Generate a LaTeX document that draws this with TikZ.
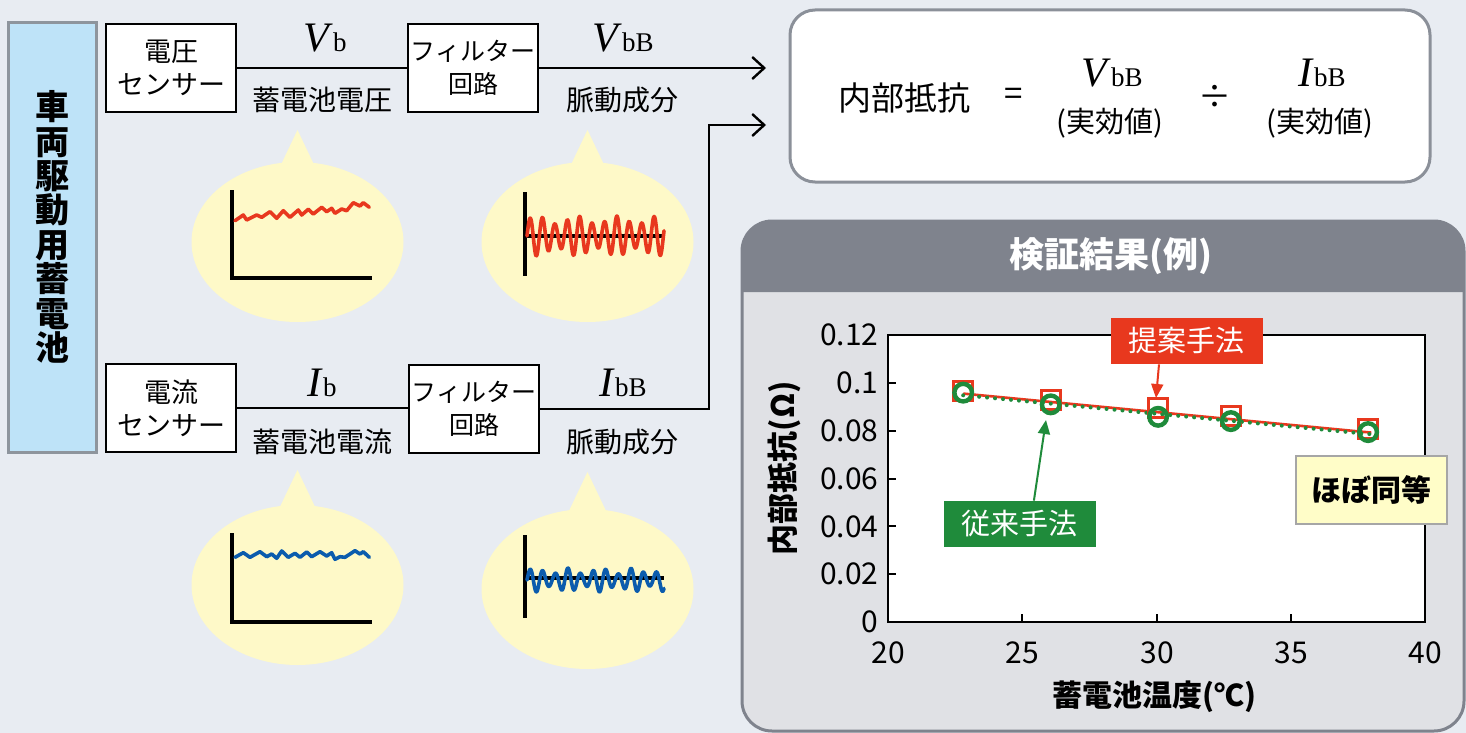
\documentclass[tikz,border=0pt]{standalone}
\usepackage{fontspec}
\setmainfont{Noto Sans CJK JP}
\newfontfamily\tms{Liberation Serif}
\usetikzlibrary{arrows.meta}
\definecolor{bgc}{HTML}{E8ECF2}
\definecolor{leftfill}{HTML}{BEE3F8}
\definecolor{leftdraw}{HTML}{8E959D}
\definecolor{bub}{HTML}{FEF9C8}
\definecolor{cred}{HTML}{E8381E}
\definecolor{cblue}{HTML}{0B5CAD}
\definecolor{cgreen}{HTML}{1F8B3B}
\definecolor{hdr}{HTML}{7F838D}
\definecolor{body}{HTML}{E0E1E5}
\definecolor{fgrey}{HTML}{8B9099}
\definecolor{yel}{HTML}{FFFDC8}
\newcommand{\jfs}[1]{\fontsize{#1}{#1}\selectfont}
\newcommand{\sig}[2]{{\tms\jfs{21}\textit{#1}\jfs{13.5}#2}}
\begin{document}
\begin{tikzpicture}[x=0.5pt,y=-0.5pt,
  blk/.style={draw=black, line width=1pt, fill=white, minimum width=65pt, minimum height=44pt, inner sep=0pt, align=center, font=\fontsize{13.5}{16.5}\selectfont},
  fblk/.style={blk, font=\fontsize{12.5}{16.5}\selectfont},
  sigline/.style={line width=1.2pt, black},
  arr/.style={sigline, -{Straight Barb[length=6pt,width=11pt,line width=1.2pt]}},
  jlab/.style={font=\jfs{14}, inner sep=0pt},
  axis/.style={line width=2pt, black, line join=miter},
  wave/.style={line width=1.8pt, line join=round, line cap=round},
  tick/.style={line width=1pt, black},
  ticklab/.style={font=\jfs{15}, inner sep=0pt},
  tag/.style={minimum width=76pt, minimum height=23pt, inner sep=0pt, text=white, font=\jfs{14.5}},
]
\useasboundingbox (0,0) rectangle (1466,733);
\fill[bgc] (0,0) rectangle (1466,733);

% left battery box
\node[draw=leftdraw, line width=1.5pt, fill=leftfill, minimum width=44pt, minimum height=214.5pt, inner sep=0pt] (bat) at (52.5,237.5) {};
\node[font=\fontsize{17}{17.2}\selectfont\bfseries, align=center, inner sep=0pt] (battxt) at (52,227) {車\\両\\駆\\動\\用\\蓄\\電\\池};

% voltage row
\node[blk] (vs) at (171,68) {電圧\\センサー};
\node[fblk] (vf) at (473,68) {フィルター\\回路};
\coordinate (t1) at (766,70);
\coordinate (t2) at (766,125);
\coordinate (c2) at (709,125);
\draw[sigline] (vs.east) -- (vf.west);
\draw[arr] (vf.east) -- (vf.east -| t1);
\node[inner sep=0pt] (vb) at (325,38) {\sig{V}{b}};
\node[jlab] (vbt) at (322,100) {蓄電池電圧};
\node[inner sep=0pt] (vbb) at (623,38) {\sig{V}{bB}};
\node[jlab] (vbbt) at (622,100) {脈動成分};

% current row
\node[blk] (is) at (171,408) {電流\\センサー};
\node[fblk] (if) at (474,409) {フィルター\\回路};
\draw[sigline] (is.east) -- (is.east -| if.west);
\draw[arr] (if.east) -| (c2) -- (t2);
\node[inner sep=0pt] (ib) at (322,383) {\sig{I}{b}};
\node[jlab] (ibt) at (322,442) {蓄電池電流};
\node[inner sep=0pt] (ibb) at (623,383) {\sig{I}{bB}};
\node[jlab] (ibbt) at (622,442) {脈動成分};

% bubbles
\foreach \cx/\cy/\ay in {297.5/242/130, 587.5/242/130, 297.5/585/470, 587.5/589/472}{
  \fill[bub] (\cx,\cy) ellipse [x radius=53pt, y radius=40pt];
  \fill[bub] (\cx-20,\ay+42) -- (\cx,\ay) -- (\cx+20,\ay+42) -- cycle;
}
% bubble 1: voltage
\draw[axis] (232,190) -- (232,278) -- (372,278);
\draw[wave, cred] (235,220.7) -- (243.3,215) -- (246.7,220) -- (256.7,215) -- (261.7,217.3) -- (270,211.7) -- (276.7,218.3) -- (283.3,210.7) -- (290,217.3) -- (298.3,210) -- (301.7,215) -- (308.3,209.3) -- (313.3,214) -- (321.7,207.3) -- (326.7,211.7) -- (331.7,208.3) -- (335,213.3) -- (341.7,209) -- (346.7,210.7) -- (353.3,202.7) -- (360,206) -- (363.3,202.7) -- (369.3,207.3);
% bubble 2: voltage ripple
\draw[axis] (525,192) -- (525,276);
\draw[axis] (525,236) -- (664,236);
\draw[wave, cred, smooth] plot[domain=0:137, samples=300] ({527+\x},{236-(16+4*sin(\x*9))*sin(\x*29.03)});
% bubble 3: current
\draw[axis] (232,533) -- (232,622) -- (372,622);
\draw[wave, cblue] (235,557.3) -- (243.3,552.7) -- (250,557.3) -- (260,551.7) -- (266.7,556.7) -- (271.7,554) -- (276.7,558.3) -- (281.7,551) -- (288.3,557.3) -- (295,553.3) -- (300,557.3) -- (306.7,552) -- (311.7,556.7) -- (320,551.7) -- (326.7,556) -- (331.7,552.7) -- (335,559.3) -- (340,556.7) -- (345,557.3) -- (355,550.7) -- (360,554) -- (363.3,551.7) -- (369.3,557.3);
% bubble 4: current ripple
\draw[axis] (525,535) -- (525,618);
\draw[axis] (525,578) -- (664,578);
\draw[wave, cblue, smooth] plot[domain=0:137, samples=300] ({527+\x},{580-(9+3*sin(\x*11))*sin(\x*28.57)});

% formula box
\node[draw=fgrey, line width=1.5pt, rounded corners=12.5pt, fill=white, minimum width=320pt, minimum height=86pt, inner sep=0pt] (fb) at (1110,96) {};
\node[font=\jfs{16.5}, inner sep=0pt] (fr) at (904,98) {内部抵抗};
\node[font=\jfs{16.5}, inner sep=0pt] (feq) at (1014,97) {=};
\node[inner sep=0pt] (fv) at (1112,73) {\sig{V}{bB}};
\node[font=\jfs{14.5}, inner sep=0pt] (fv2) at (1110,123) {(実効値)};
\node[font=\jfs{16.5}, inner sep=0pt] (fdiv) at (1215,97) {÷};
\node[inner sep=0pt] (fi) at (1322,73) {\sig{I}{bB}};
\node[font=\jfs{14.5}, inner sep=0pt] (fi2) at (1320,123) {(実効値)};

% chart panel
\draw[fill=body, draw=hdr, line width=1.5pt, rounded corners=15pt] (742,221) rectangle (1464,731);
\fill[hdr] (742,292) [rounded corners=15pt] -- (742,221) -- (1464,221) [sharp corners] -- (1464,292) -- cycle;
\node[font=\jfs{17.5}\bfseries, text=white, inner sep=0pt] (ptitle) at (1111,256) {検証結果(例)};

% plot frame
\draw[line width=1.3pt, fill=white] (888,335) rectangle (1425,622);
\foreach \yy in {574.2,526.3,478.5,430.7,382.8} \draw[tick] (888,\yy) -- (896,\yy);
\foreach \xx in {1022,1157,1291} \draw[tick] (\xx,622) -- (\xx,614);
\foreach \yy/\tl [count=\i] in {622/0,574.2/0.02,526.3/0.04,478.5/0.06,430.7/0.08,382.8/0.1,335/0.12}
  \node[ticklab, anchor=east] (yl\i) at (879,\yy) {\tl};
\foreach \xx/\tl [count=\i] in {888/20,1022/25,1157/30,1291/35,1425/40}
  \node[ticklab] (xl\i) at (\xx,653) {\tl};
\node[font=\jfs{15.5}\bfseries, rotate=90, inner sep=0pt] (ytitle) at (784,468) {内部抵抗(Ω)};
\node[font=\jfs{15}\bfseries, inner sep=0pt] (xtitle) at (1154,697) {蓄電池温度(℃)};

\begin{scope}[shift={(888,622)}, x=13.425pt, y=1195.8pt]
  \draw[cred, line width=1.3pt] (2.8,0.0955) -- (18,0.0792);
  \draw[cgreen, line width=2pt, line cap=round, dash pattern=on 0pt off 4pt] (2.8,0.0948) -- (18,0.0785);
  \foreach \tx/\ry [count=\i] in {2.8/0.0965, 6.06/0.0928, 10.06/0.0894, 12.77/0.0861, 17.88/0.0807}
    \node[rectangle, draw=cred, line width=1.5pt, minimum size=9.5pt, inner sep=0pt] (r\i) at (\tx,\ry) {};
  \foreach \tx/\gy [count=\i] in {2.8/0.0959, 6.06/0.0910, 10.06/0.0858, 12.77/0.0840, 17.88/0.0794}
    \node[circle, draw=cgreen, line width=2.2pt, minimum size=8.8pt, inner sep=0pt] (g\i) at (\tx,\gy) {};
\end{scope}

% labels
\node[tag, fill=cred] (ta) at (1186.5,341) {提案手法};
\node[tag, fill=cgreen] (jr) at (1019.5,524) {従来手法};
\coordinate (ra) at (1156,398);
\coordinate (ga) at (1046,420);
\draw[cred, line width=1pt, -{Triangle[length=7pt,width=6pt]}] ([xshift=-13.75pt]ta.south) -- (ra);
\draw[cgreen, line width=1pt, -{Triangle[length=7pt,width=6pt]}] ([xshift=7.2pt]jr.north) -- (ga);
\node[draw=gray!70, line width=0.75pt, fill=yel, minimum width=75.5pt, minimum height=34pt, inner sep=0pt, font=\jfs{15}\bfseries] (same) at (1371.5,490) {ほぼ同等};
\end{tikzpicture}
\end{document}
